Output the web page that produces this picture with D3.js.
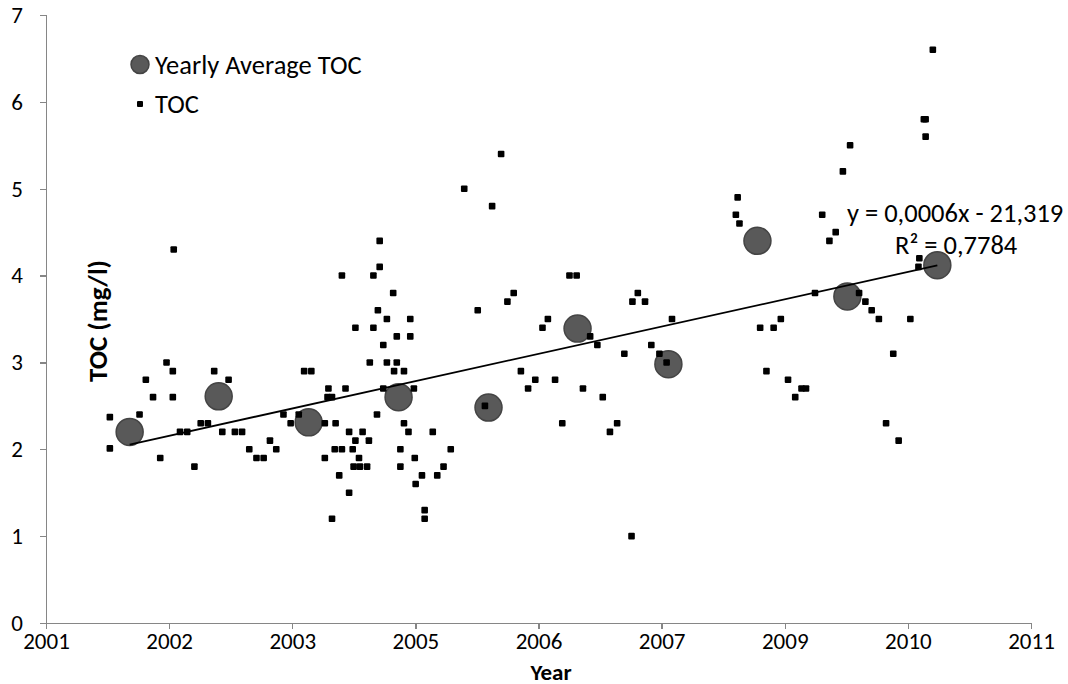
<!DOCTYPE html>
<html>
<head>
<meta charset="utf-8">
<script src="https://d3js.org/d3.v7.min.js"></script>
<style>
  html, body { margin: 0; padding: 0; background: #fff; }
  svg { display: block; }
  text { font-family: Carlito, Lato, "Liberation Sans", sans-serif; fill: #000; }
</style>
</head>
<body>
<svg id="chart" width="1068" height="684"></svg>
<script>
// ---------------- data ----------------
// x-axis tick dates (major unit 500 days) and their labels
const xTickDates = ["2001-01-01","2002-05-16","2003-09-28","2005-02-09","2006-06-24","2007-11-06","2009-03-20","2010-08-02","2011-12-15"];
const xTickLabels = ["2001","2002","2003","2005","2006","2007","2009","2010","2011"];
const yTicks = [0,1,2,3,4,5,6,7];

// Yearly average TOC (x as decimal year)
const avgYears = [2001.93, 2002.92, 2003.92, 2004.92, 2005.92, 2006.91, 2007.92, 2008.91, 2009.91, 2010.91];
const avgTOC   = [2.20, 2.61, 2.31, 2.60, 2.48, 3.39, 2.98, 4.40, 3.76, 4.12];

// Individual TOC samples (x as decimal year)
const tocYears = [
  2001.71,2001.71,2002.04,2002.11,2002.19,2002.27,2002.34,2002.41,2002.41,2002.42,
  2002.49,2002.57,2002.65,2002.72,2002.80,2002.87,2002.96,2003.03,2003.10,2003.18,
  2003.26,2003.34,2003.42,2003.49,2003.56,2003.64,2003.72,2003.81,2003.87,2003.95,
  2004.10,2004.10,2004.13,2004.14,2004.18,2004.18,2004.21,2004.22,2004.26,2004.29,
  2004.29,2004.33,2004.37,2004.37,2004.41,2004.42,2004.44,2004.44,2004.48,2004.49,
  2004.52,2004.57,2004.59,2004.60,2004.64,2004.64,2004.68,2004.69,2004.71,2004.71,
  2004.75,2004.75,2004.79,2004.79,2004.86,2004.87,2004.90,2004.90,2004.94,2004.94,
  2004.98,2004.98,2005.03,2005.05,2005.05,2005.09,2005.10,2005.11,2005.18,2005.21,
  2005.21,2005.30,2005.35,2005.42,2005.50,2005.65,2005.80,2005.88,2005.96,2006.06,
  2006.13,2006.20,2006.28,2006.36,2006.44,2006.52,2006.58,2006.66,2006.74,2006.82,
  2006.90,2006.97,2007.05,2007.13,2007.19,2007.27,2007.35,2007.43,2007.51,2007.52,
  2007.58,2007.66,2007.73,2007.82,2007.90,2007.96,2008.67,2008.69,2008.71,2008.94,
  2009.01,2009.09,2009.17,2009.25,2009.33,2009.40,2009.45,2009.55,2009.63,2009.71,
  2009.78,2009.86,2009.94,2010.04,2010.11,2010.18,2010.26,2010.34,2010.42,2010.48,
  2010.61,2010.70,2010.71,2010.76,2010.78,2010.78,2010.86
];
const tocValues = [
  2.37,2.01,2.40,2.80,2.60,1.90,3.00,2.90,2.60,4.30,
  2.20,2.20,1.80,2.30,2.30,2.90,2.20,2.80,2.20,2.20,
  2.00,1.90,1.90,2.10,2.00,2.40,2.30,2.40,2.90,2.90,
  2.30,1.90,2.60,2.70,2.60,1.20,2.00,2.30,1.70,2.00,
  4.00,2.70,1.50,2.20,2.00,1.80,3.40,2.10,1.90,1.80,
  2.20,1.80,2.10,3.00,4.00,3.40,2.40,3.60,4.40,4.10,
  3.20,2.70,3.00,3.50,3.80,2.90,3.30,3.00,2.00,1.80,
  2.90,2.30,2.20,3.50,3.30,2.70,1.90,1.60,1.70,1.30,
  1.20,2.20,1.70,1.80,2.00,5.00,3.60,2.50,4.80,5.40,
  3.70,3.80,2.90,2.70,2.80,3.40,3.50,2.80,2.30,4.00,
  4.00,2.70,3.30,3.20,2.60,2.20,2.30,3.10,1.00,3.70,
  3.80,3.70,3.20,3.10,3.00,3.50,4.70,4.90,4.60,3.40,
  2.90,3.40,3.50,2.80,2.60,2.70,2.70,3.80,4.70,4.40,
  4.50,5.20,5.50,3.80,3.70,3.60,3.50,2.30,3.10,2.10,
  3.50,4.10,4.20,5.80,5.80,5.60,6.60
];

const legendLabels = ["Yearly Average TOC", "TOC"];
const eqText = "y = 0,0006x - 21,319";
const r2Text = "R\u00B2 = 0,7784";
const xTitle = "Year";
const yTitle = "TOC (mg/l)";

// ---------------- helpers ----------------
const DAY = 864e5;
const t2001 = Date.UTC(2001, 0, 1);
const yearToDate = yr => new Date(t2001 + (yr - 2001) * 365.25 * DAY);
const parse = s => new Date(s + "T00:00:00Z");

const svg = d3.select("#chart");
const m = { left: 46, right: 1031, top: 15, bottom: 623 };

const tickDates = xTickDates.map(parse);
const x = d3.scaleUtc().domain([tickDates[0], tickDates[tickDates.length - 1]]).range([m.left, m.right]);
const y = d3.scaleLinear().domain([0, 7]).range([m.bottom, m.top]);

const axisColor = "#868686";
const FONT = "Carlito, Lato, sans-serif";

// ---------------- axes ----------------
const gx = svg.append("g").attr("transform", `translate(0,${m.bottom})`)
  .call(d3.axisBottom(x).tickValues(tickDates).tickFormat((d, i) => xTickLabels[i])
        .tickSizeOuter(0).tickSize(6).tickPadding(4));
gx.selectAll("path,line").attr("stroke", axisColor).attr("stroke-width", 1.3).attr("shape-rendering", "crispEdges");
gx.selectAll("text").attr("font-size", 23).attr("font-family", FONT).attr("fill", "#000");

const gy = svg.append("g").attr("transform", `translate(${m.left},0)`)
  .call(d3.axisLeft(y).tickValues(yTicks).tickFormat(d3.format("d"))
        .tickSizeOuter(0).tickSize(6).tickPadding(17));
gy.selectAll("path,line").attr("stroke", axisColor).attr("stroke-width", 1.3).attr("shape-rendering", "crispEdges");
gy.selectAll("text").attr("font-size", 23).attr("font-family", FONT).attr("fill", "#000");

// axis titles
svg.append("text").attr("x", 551).attr("y", 680).attr("text-anchor", "middle")
  .attr("font-size", 23).attr("font-weight", "bold").text(xTitle);
svg.append("text").attr("transform", "translate(107,321) rotate(-90)").attr("text-anchor", "middle")
  .attr("font-size", 27).attr("font-weight", "bold").text(yTitle);

// ---------------- marks ----------------
const avgData = avgYears.map((yr, i) => ({ d: yearToDate(yr), v: avgTOC[i] }));
const tocData = tocYears.map((yr, i) => ({ d: yearToDate(yr), v: tocValues[i] }));

svg.append("g").selectAll("circle").data(avgData).join("circle")
  .attr("cx", p => x(p.d)).attr("cy", p => y(p.v)).attr("r", 13.5)
  .attr("fill", "#595959").attr("stroke", "#444").attr("stroke-width", 1.5);

const sq = 6.6;
svg.append("g").selectAll("rect").data(tocData).join("rect")
  .attr("x", p => x(p.d) - sq / 2).attr("y", p => y(p.v) - sq / 2)
  .attr("width", sq).attr("height", sq).attr("rx", 1)
  .attr("fill", "#000");

// linear trend through yearly averages
const xs = avgData.map(p => +p.d), ys = avgData.map(p => p.v);
const mx = d3.mean(xs), my = d3.mean(ys);
const slope = d3.sum(xs, (xv, i) => (xv - mx) * (ys[i] - my)) / d3.sum(xs, xv => (xv - mx) ** 2);
const icpt = my - slope * mx;
const x0 = d3.min(xs), x1 = d3.max(xs);
svg.append("line")
  .attr("x1", x(new Date(x0))).attr("y1", y(slope * x0 + icpt))
  .attr("x2", x(new Date(x1))).attr("y2", y(slope * x1 + icpt))
  .attr("stroke", "#000").attr("stroke-width", 1.8);

// trend label
svg.append("text").attr("x", 847).attr("y", 222).attr("font-size", 26.5).text(eqText);
svg.append("text").attr("x", 895).attr("y", 254).attr("font-size", 26.5).text(r2Text);

// ---------------- legend ----------------
const lg = svg.append("g");
lg.append("circle").attr("cx", 140).attr("cy", 64.5).attr("r", 9)
  .attr("fill", "#595959").attr("stroke", "#444").attr("stroke-width", 1.5);
lg.append("text").attr("x", 155).attr("y", 74).attr("font-size", 26.5).text(legendLabels[0]);
lg.append("rect").attr("x", 137).attr("y", 101).attr("width", 6).attr("height", 6).attr("rx", 1).attr("fill", "#000");
lg.append("text").attr("x", 155).attr("y", 113).attr("font-size", 26.5).text(legendLabels[1]);
</script>
</body>
</html>
